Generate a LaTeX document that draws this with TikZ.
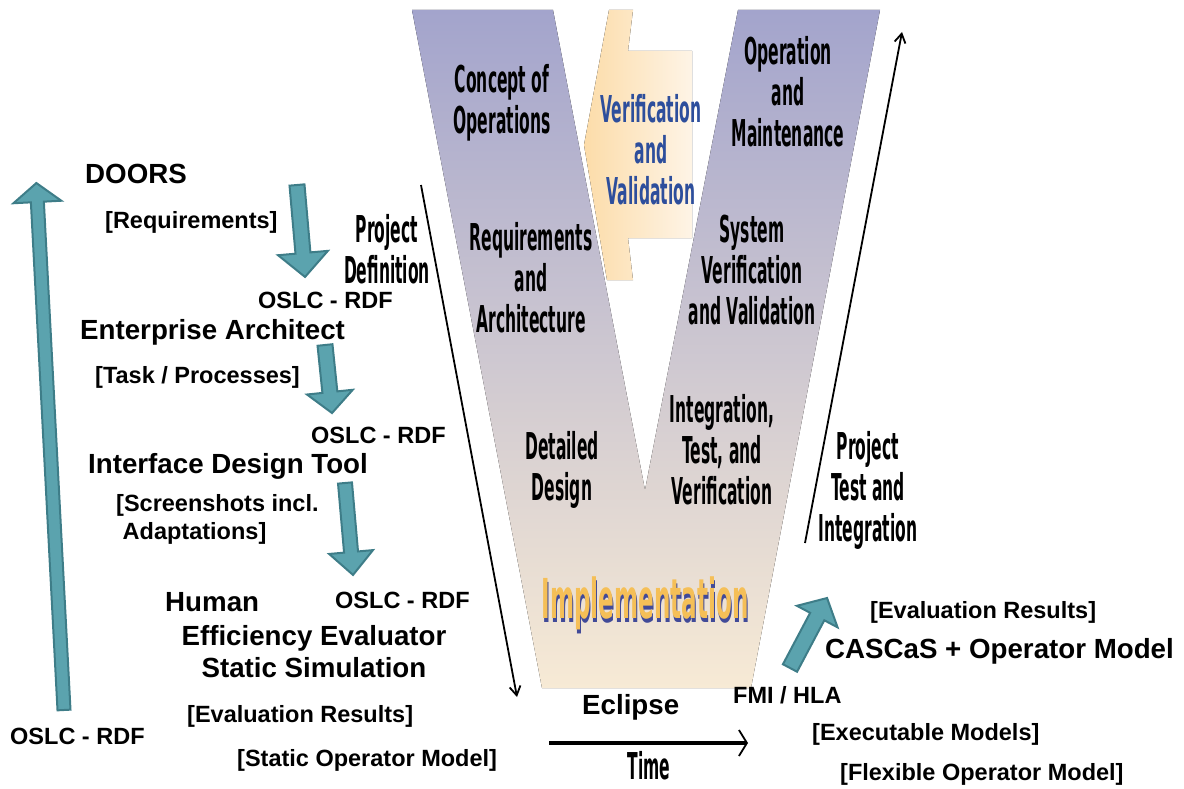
\documentclass[tikz,border=0pt]{standalone}
\usepackage{fontspec}
\setmainfont{Liberation Sans}
\newfontfamily\vfont[FakeStretch=0.42]{DejaVu Sans}
\usetikzlibrary{arrows.meta}
\definecolor{vtop}{HTML}{A3A4CC}
\definecolor{vmid}{HTML}{D2C8D5}
\definecolor{vbottom}{HTML}{F7EAD5}
\definecolor{vvleft}{HTML}{FCDCA9}
\definecolor{vvright}{HTML}{FEF4E6}
\definecolor{vvblue}{HTML}{2D4E9C}
\definecolor{implorange}{HTML}{F5BF57}
\definecolor{implshade}{HTML}{414A98}
\definecolor{tealfill}{HTML}{5BA3AE}
\definecolor{tealedge}{HTML}{3E7D88}

% block arrow: tail, angle, length, half shaft, half head, head length
\newcommand{\tealarrow}[6]{%
	\begin{scope}[shift={(#1)}, rotate=#2]
		\draw[tealblock] (0,-#4) -- (#3-#6,-#4) -- (#3-#6,-#5) -- (#3,0)
			-- (#3-#6,#5) -- (#3-#6,#4) -- (0,#4) -- cycle;
	\end{scope}}

% orange word with a dark blue copy just below it
\newcommand{\shadedword}[1]{%
	\makebox[0pt][l]{\hspace{1pt}\raisebox{-4pt}{\color{implshade}#1}}{\color{implorange}#1}}

\begin{document}
\begin{tikzpicture}[
		x=1pt, y=-1pt,
		tool/.style={font=\bfseries\fontsize{27.7}{32}\selectfont, inner sep=0pt, anchor=base west},
		data/.style={font=\bfseries\fontsize{23.5}{28}\selectfont, inner sep=0pt, anchor=base west},
		phase/.style={font=\vfont\bfseries\fontsize{37}{41}\selectfont, align=center, inner sep=0pt, text=black},
		tealblock/.style={fill=tealfill, draw=tealedge, line width=2pt, line join=miter},
		timeline/.style={line width=1.8pt, -{Straight Barb[length=9pt,width=11pt]}}
		]
		\useasboundingbox (0,0) rectangle (1184,789);
		
		% Verification and Validation arrow between the arms
		\fill[left color=vvleft, right color=vvright] (584,145) -- (609,10) -- (633,10) -- (628,51)
			-- (692,51) -- (692,238) -- (628,238) -- (633,280) -- (607,280) -- cycle;
		
		% the V
		\fill[top color=vtop, middle color=vmid, bottom color=vbottom] (412,10) -- (553,10)
			-- (645,490) -- (738,10) -- (880,10) -- (751,688) -- (542,688) -- cycle;
		
		% phases
		\node[phase] (conops) at (502,103) {Concept of\\Operations};
		\node[phase, text=vvblue] (vv) at (651,150) {Verification\\and\\Validation};
		\node[phase] (opmaint) at (788,92) {Operation\\and\\Maintenance};
		\node[phase] (reqarch) at (531,278) {Requirements\\and\\Architecture};
		\node[phase] (sysvv) at (752,270) {System\\Verification\\and Validation};
		\node[phase] (design) at (562,470) {Detailed\\Design};
		\node[phase] (itv) at (722,450) {Integration,\\Test, and\\Verification};
		\node[phase] (projdef) at (387,249) {Project\\Definition};
		\node[phase] (projtest) at (868,490) {Project\\Test and\\Integration};
		\node[font=\vfont\bfseries\fontsize{37}{41}\selectfont, inner sep=0pt, anchor=base] (time) at (649,779) {Time};
		\node[phase, font=\vfont\bfseries\fontsize{55}{60}\selectfont] (impl) at (645,605) {\shadedword{Implementation}};
		
		% project and time arrows
		\coordinate (defstart) at (421,185);
		\coordinate (defend) at (517,697);
		\draw[timeline] (defstart) -- (defend);
		\coordinate (teststart) at (805,543);
		\coordinate (testend) at (902,32);
		\draw[timeline] (teststart) -- (testend);
		\coordinate (timestart) at (549,743);
		\coordinate (timeend) at (748,743);
		\draw[line width=4pt, -{Straight Barb[length=8pt,width=26pt,line width=1.8pt]}] (timestart) -- (timeend);
		
		% tool chain
		\node[tool] (doors) at (85,183) {DOORS};
		\node[data] (reqdata) at (105,228) {[Requirements]};
		\node[data] (oslcone) at (258,308) {OSLC - RDF};
		\node[tool] (ea) at (80,339) {Enterprise Architect};
		\node[data] (taskdata) at (95,383) {[Task / Processes]};
		\node[data] (oslctwo) at (311,443) {OSLC - RDF};
		\node[tool] (idt) at (88,473) {Interface Design Tool};
		\node[data, align=left, anchor=west] (shotdata) at (116,519) {[Screenshots incl.\\\ Adaptations]};
		\node[tool] (human) at (165,611) {Human};
		\node[data] (oslcthree) at (335,608) {OSLC - RDF};
		\node[tool, align=center, anchor=center] (hee) at (314,652) {Efficiency Evaluator\\Static Simulation};
		\node[data] (evaldata) at (187,722) {[Evaluation Results]};
		\node[data] (oslcfour) at (10,744) {OSLC - RDF};
		\node[data] (staticdata) at (237,766) {[Static Operator Model]};
		\node[tool] (eclipse) at (582,714) {Eclipse};
		\node[data] (fmi) at (733,703) {FMI / HLA};
		\node[data] (evalres) at (870,618) {[Evaluation Results]};
		\node[tool] (cascas) at (825,658) {CASCaS + Operator Model};
		\node[data] (execdata) at (812,740) {[Executable Models]};
		\node[data] (flexdata) at (840,780) {[Flexible Operator Model]};
		
		% OSLC block arrows
		\tealarrow{297,185}{-85.0}{92.3}{7.5}{25}{24}
		\tealarrow{325,345}{-84.1}{68.4}{7.5}{23}{21}
		\tealarrow{345,483}{-85.0}{92.3}{7}{22}{23}
		\tealarrow{64,710}{93.0}{527.7}{6.5}{24}{19}
		\tealarrow{790,668}{62.1}{79.2}{8}{23}{21}
		
	\end{tikzpicture}
\end{document}
